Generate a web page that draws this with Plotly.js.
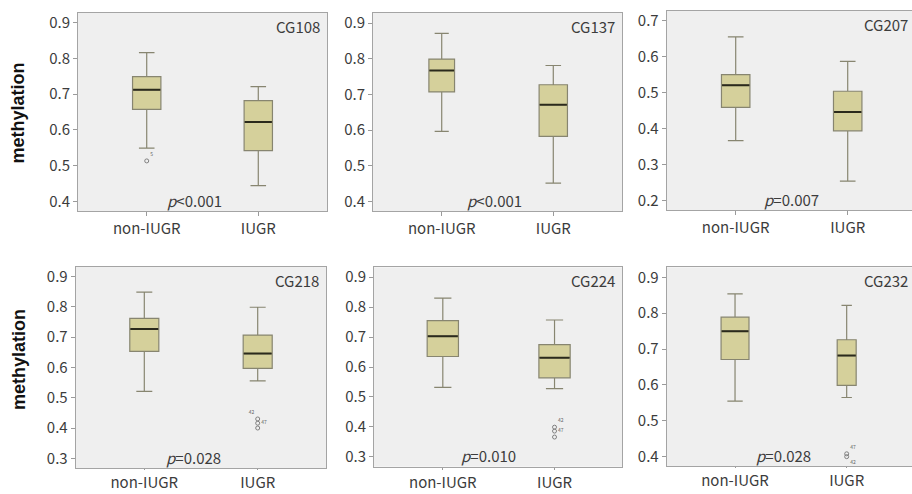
<!DOCTYPE html>
<html>
<head>
<meta charset="utf-8">
<script src="https://cdn.plot.ly/plotly-3.0.1.min.js"></script>
<style>html,body{margin:0;padding:0;background:#fff}#chart{width:912px;height:494px}</style>
</head>
<body>
<div id="chart"></div>
<script>
// ---- data ----
const categories = ['non-IUGR', 'IUGR'];
const panelNames = ['CG108', 'CG137', 'CG207', 'CG218', 'CG224', 'CG232'];
const pLabels = ['<i>p</i>&lt;0.001', '<i>p</i>&lt;0.001', '<i>p</i>=0.007', '<i>p</i>=0.028', '<i>p</i>=0.010', '<i>p</i>=0.028'];
// [non-IUGR, IUGR] per panel
const upperWhisker = [[0.816, 0.721], [0.871, 0.781], [0.655, 0.587], [0.849, 0.799], [0.830, 0.757], [0.854, 0.822]];
const q3Values     = [[0.749, 0.682], [0.799, 0.727], [0.550, 0.504], [0.762, 0.707], [0.755, 0.675], [0.789, 0.726]];
const medians      = [[0.712, 0.622], [0.767, 0.671], [0.521, 0.446], [0.727, 0.646], [0.703, 0.631], [0.750, 0.682]];
const q1Values     = [[0.657, 0.542], [0.707, 0.582], [0.459, 0.394], [0.653, 0.597], [0.635, 0.564], [0.671, 0.599]];
const lowerWhisker = [[0.549, 0.444], [0.596, 0.451], [0.367, 0.254], [0.521, 0.556], [0.532, 0.528], [0.555, 0.565]];
// outliers: group index, values, labels
const outlierGroup  = [0, null, null, 1, 1, 1];
const outlierValues = [[0.513], [], [], [0.430, 0.416, 0.400], [0.399, 0.386, 0.366], [0.408, 0.400]];
const outlierLabels = [['5'], [], [], ['42', '47', ''], ['42', '47', ''], ['47', '42']];

// ---- layout config (positions/sizes) ----
const W = 912, H = 494;
const panelBoxes = [ // left, right, top, bottom in px
  [78, 327, 13, 211.3], [373, 622, 12.7, 211], [666.7, 912, 11, 210],
  [75.7, 326.3, 266.7, 468.3], [374, 622, 267.3, 466.7], [666.7, 912, 267.3, 466]
];
const xRanges = [[-0.616, 1.616], [-0.616, 1.616], [-0.616, 1.574], [-0.605, 1.605], [-0.616, 1.604], [-0.612, 1.585]];
const yRanges = [[0.372, 0.927], [0.373, 0.929], [0.174, 0.727], [0.267, 0.933], [0.267, 0.933], [0.374, 0.928]];
const boxWidths = [[0.254, 0.254], [0.23, 0.254], [0.254, 0.254], [0.256, 0.256], [0.28, 0.28], [0.25, 0.17]];
const pXPos = [0.43, 0.473, 0.5, 0.438, 0.405, 0.43];
const nameShift = [-5, -5, -2, -5, -5, -2];
const xTickLen = [4, 4, 4, 1, 2, 1];
const outlierTextPos = [
  ['top right'], [], [],
  ['top left', 'middle right', 'middle right'],
  ['top right', 'middle right', 'middle right'],
  ['top right', 'bottom right']
];

const fontFam = '"Noto Sans CJK JP", "Noto Sans", sans-serif';
const textColor = '#3c3c3c';
const boxFill = '#d5d09b';
const boxLine = '#878570';
const medianLine = '#2b2a1c';

const traces = [];
const layout = {
  width: W, height: H,
  margin: {l: 0, r: 0, t: 0, b: 0},
  paper_bgcolor: '#ffffff',
  plot_bgcolor: '#efefef',
  showlegend: false,
  font: {family: fontFam, size: 15, color: textColor},
  annotations: []
};

for (let i = 0; i < 6; i++) {
  const n = i + 1;
  const xa = 'x' + (n === 1 ? '' : n);
  const ya = 'y' + (n === 1 ? '' : n);
  const [l, r, t, b] = panelBoxes[i];
  layout['xaxis' + (n === 1 ? '' : n)] = {
    domain: [l / W, r / W], anchor: ya,
    type: 'category', categoryorder: 'array', categoryarray: categories,
    range: xRanges[i], showgrid: false, zeroline: false,
    showline: true, mirror: true, linecolor: '#a4a4a4', linewidth: 1,
    ticks: 'outside', ticklen: xTickLen[i], tickcolor: '#9a9a9a',
    tickfont: {family: fontFam, size: 15, color: textColor}, fixedrange: true
  };
  layout['yaxis' + (n === 1 ? '' : n)] = {
    domain: [1 - b / H, 1 - t / H], anchor: xa,
    range: yRanges[i], dtick: 0.1, tick0: 0, tickformat: '.1f',
    showgrid: false, zeroline: false,
    showline: true, mirror: true, linecolor: '#a4a4a4', linewidth: 1,
    ticks: 'outside', ticklen: 4, tickcolor: '#9a9a9a',
    tickfont: {family: fontFam, size: 15, color: textColor}, fixedrange: true
  };
  for (let g = 0; g < 2; g++) {
    traces.push({
      type: 'box', xaxis: xa, yaxis: ya,
      x: [categories[g]],
      q1: [q1Values[i][g]], median: [medians[i][g]], q3: [q3Values[i][g]],
      lowerfence: [lowerWhisker[i][g]], upperfence: [upperWhisker[i][g]],
      width: boxWidths[i][g], whiskerwidth: 0.55,
      fillcolor: boxFill, line: {color: boxLine, width: 1.2},
      boxpoints: false, hoverinfo: 'skip'
    });
    // darker median line
    traces.push({
      type: 'box', xaxis: xa, yaxis: ya,
      x: [categories[g]],
      q1: [medians[i][g]], median: [medians[i][g]], q3: [medians[i][g]],
      lowerfence: [medians[i][g]], upperfence: [medians[i][g]],
      width: boxWidths[i][g] * 0.96, whiskerwidth: 0,
      fillcolor: 'rgba(0,0,0,0)', line: {color: medianLine, width: 2},
      boxpoints: false, hoverinfo: 'skip'
    });
  }
  if (outlierValues[i].length) {
    const cat = categories[outlierGroup[i]];
    traces.push({
      type: 'scatter', mode: 'markers+text', xaxis: xa, yaxis: ya,
      x: outlierValues[i].map(() => cat), y: outlierValues[i],
      text: outlierLabels[i], textposition: outlierTextPos[i],
      textfont: {family: fontFam, size: 5, color: '#666'},
      marker: {symbol: 'circle-open', size: 4, color: '#808080', line: {width: 1}},
      hoverinfo: 'skip', cliponaxis: false
    });
  }
  layout.annotations.push({
    xref: xa + ' domain', yref: ya + ' domain', x: 1, y: 1,
    xanchor: 'right', yanchor: 'top', xshift: nameShift[i], yshift: -1,
    text: panelNames[i], showarrow: false,
    font: {family: fontFam, size: 15, color: textColor}
  });
  layout.annotations.push({
    xref: xa, yref: ya + ' domain', x: pXPos[i], y: 0,
    xanchor: 'center', yanchor: 'middle', yshift: 11,
    text: pLabels[i], showarrow: false,
    font: {family: fontFam, size: 15, color: textColor}
  });
}
// y-axis titles
[113.3, 359.7].forEach(yc => {
  layout.annotations.push({
    xref: 'paper', yref: 'paper', x: 18.3 / W, y: 1 - yc / H,
    xanchor: 'center', yanchor: 'middle', textangle: -90,
    text: '<b>methylation</b>', showarrow: false,
    font: {family: '"Liberation Sans", Arial, sans-serif', size: 18, color: '#111'}
  });
});

Plotly.newPlot('chart', traces, layout, {staticPlot: true, displayModeBar: false});
</script>
</body>
</html>
